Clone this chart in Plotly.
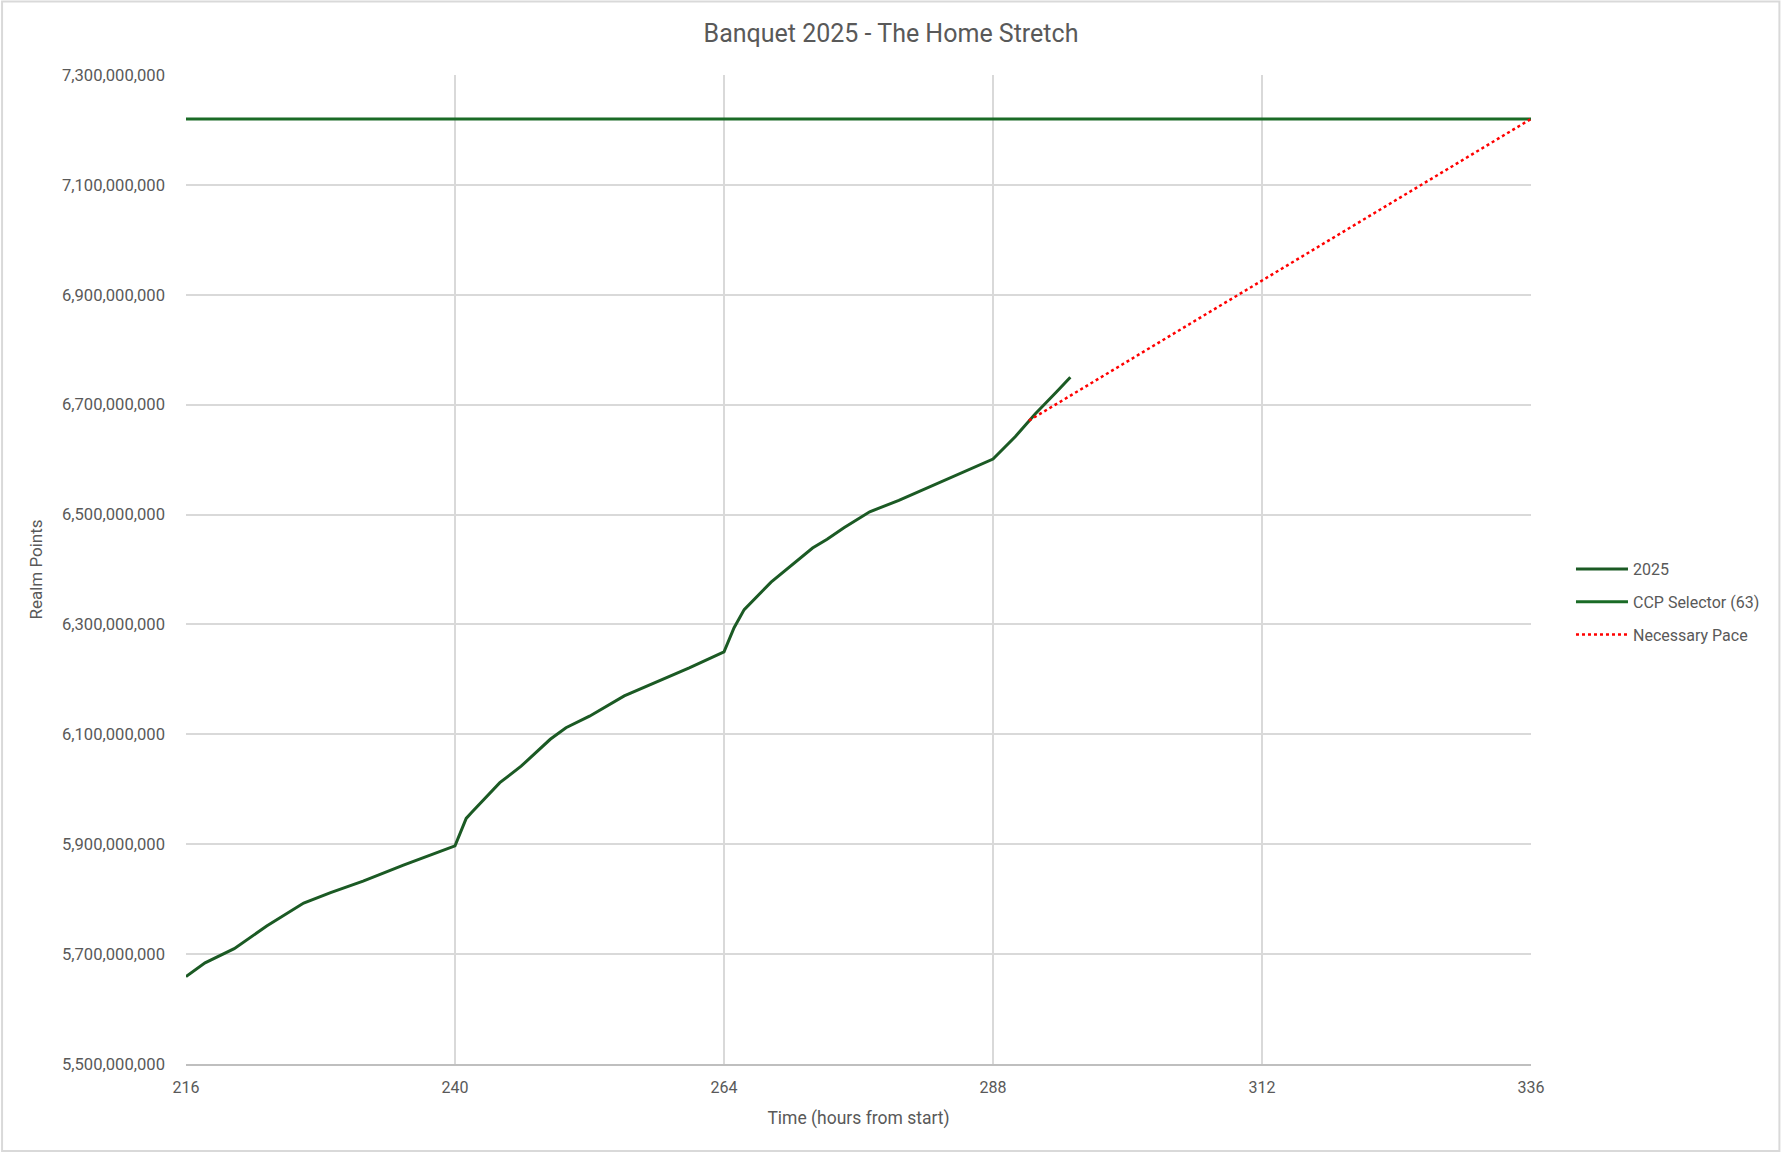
import plotly.graph_objects as go

# ---- data ----
hours_2025 = [216.0, 217.7, 220.3, 223.2, 226.5, 228.9, 231.8, 235.4, 240.0, 241.0,
              241.5, 244.0, 245.9, 248.5, 249.9, 252.0, 255.1, 257.9, 260.9, 264.0,
              264.9, 265.8, 268.2, 271.9, 273.2, 274.7, 277.0, 279.6, 282.6, 285.6,
              288.0, 290.0, 291.8, 293.7, 294.9]
points_2025 = [5659e6, 5684e6, 5710e6, 5751e6, 5793e6, 5812e6, 5833e6, 5862e6, 5897e6, 5947e6,
               5958e6, 6012e6, 6042e6, 6091e6, 6112e6, 6133e6, 6170e6, 6194e6, 6221e6, 6250e6,
               6294e6, 6327e6, 6377e6, 6439e6, 6455e6, 6476e6, 6505e6, 6526e6, 6553e6, 6580e6,
               6601e6, 6642e6, 6684e6, 6724e6, 6750e6]

ccp_hours = [216, 336]
ccp_points = [7220e6, 7220e6]

pace_hours = [291.2, 336]
pace_points = [6671e6, 7220e6]

x_ticks = [216, 240, 264, 288, 312, 336]
y_ticks = [5500e6 + 200e6 * i for i in range(10)]

# ---- figure ----
W, H = 1782, 1154
L, R, T, B = 185.5, 1531, 75, 1064

fig = go.Figure()
fig.add_trace(go.Scatter(x=hours_2025, y=points_2025, mode="lines", name="2025",
                         legendgroup="a",
                         line=dict(color="#1b5a24", width=3)))
fig.add_trace(go.Scatter(x=ccp_hours, y=ccp_points, mode="lines", name="CCP Selector (63)",
                         legendgroup="b",
                         line=dict(color="#1a6b26", width=3)))
fig.add_trace(go.Scatter(x=pace_hours, y=pace_points, mode="lines", name="Necessary Pace",
                         legendgroup="c",
                         line=dict(color="#ff0000", width=2.5, dash="dot")))

font_family = "Roboto, Inter, 'Open Sans', sans-serif"
grey = "#595959"

def px_to_paper_x(px):
    return (px - L) / (R - L)

def px_to_paper_y(py):
    return (B - py) / (B - T)

fig.update_layout(
    width=W, height=H,
    margin=dict(l=L, r=W - R, t=T, b=H - B, autoexpand=False),
    paper_bgcolor="white", plot_bgcolor="white",
    font=dict(family=font_family, color=grey, size=16),
    title=dict(text="Banquet 2025 - The Home Stretch", x=0.5, xanchor="center",
               y=1 - 33 / H, yanchor="middle",
               font=dict(size=25, color=grey, family=font_family)),
    showlegend=True,
    legend=dict(x=px_to_paper_x(1571), xanchor="left",
                y=px_to_paper_y(602), yanchor="middle",
                font=dict(size=16, color=grey), itemwidth=52,
                tracegroupgap=9, bgcolor="rgba(0,0,0,0)"),
    xaxis=dict(range=[216, 336], tickvals=x_ticks, showgrid=True, gridcolor="#d9d9d9",
               gridwidth=1.5, zeroline=False, showline=True, linecolor="#bfbfbf",
               linewidth=1.5, ticks="", ticklabelstandoff=8,
               tickfont=dict(size=16, color=grey),
               title=dict(text="Time (hours from start)", standoff=16,
                          font=dict(size=17.5, color=grey))),
    yaxis=dict(range=[5500e6, 7300e6], tickvals=y_ticks, tickformat=",",
               showgrid=True, gridcolor="#d9d9d9", gridwidth=1.5, zeroline=False,
               showline=False, ticks="", ticklabelstandoff=20,
               tickfont=dict(size=16.6, color=grey),
               title=dict(text="Realm Points", standoff=14,
                          font=dict(size=17, color=grey))),
)

# chart-area border
fig.add_shape(type="rect", xref="paper", yref="paper",
              x0=px_to_paper_x(1.5), x1=px_to_paper_x(W - 2.5),
              y0=px_to_paper_y(H - 3), y1=px_to_paper_y(1.5),
              line=dict(color="#d9d9d9", width=2), layer="below")

fig.write_html("out.html", config={"displayModeBar": False},
               post_script="document.body.style.margin='0';")
